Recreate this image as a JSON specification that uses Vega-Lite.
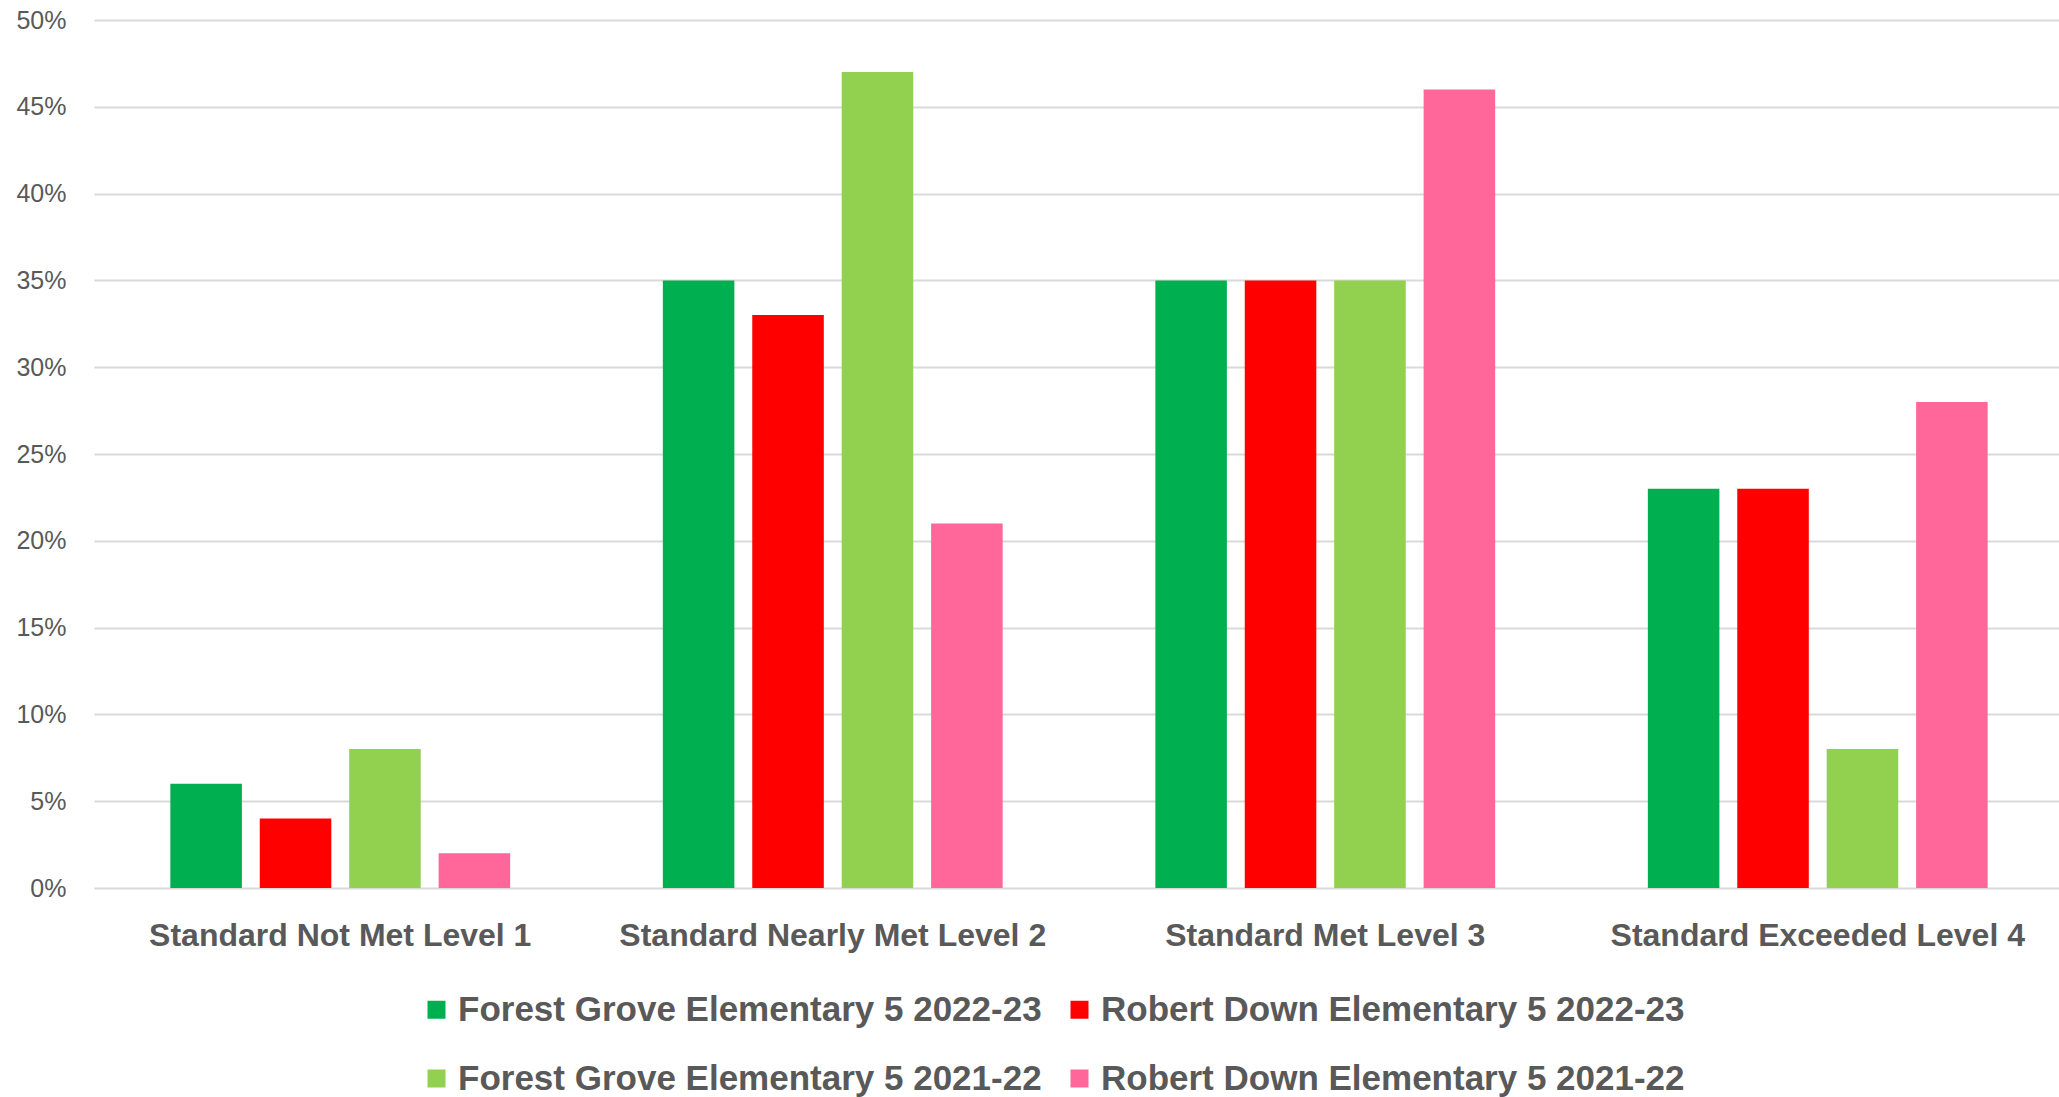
{
  "$schema": "https://vega.github.io/schema/vega-lite/v6.json",
  "width": 1970,
  "height": 868,
  "autosize": "none",
  "padding": {"left": 94, "top": 20, "right": 0, "bottom": 209},
  "background": "white",
  "data": {
    "values": [
      {"level": "Standard Not Met Level 1", "series": "Forest Grove Elementary 5 2022-23", "value": 0.06},
      {"level": "Standard Not Met Level 1", "series": "Robert Down Elementary 5 2022-23", "value": 0.04},
      {"level": "Standard Not Met Level 1", "series": "Forest Grove Elementary 5 2021-22", "value": 0.08},
      {"level": "Standard Not Met Level 1", "series": "Robert Down Elementary 5 2021-22", "value": 0.02},
      {"level": "Standard Nearly Met Level 2", "series": "Forest Grove Elementary 5 2022-23", "value": 0.35},
      {"level": "Standard Nearly Met Level 2", "series": "Robert Down Elementary 5 2022-23", "value": 0.33},
      {"level": "Standard Nearly Met Level 2", "series": "Forest Grove Elementary 5 2021-22", "value": 0.47},
      {"level": "Standard Nearly Met Level 2", "series": "Robert Down Elementary 5 2021-22", "value": 0.21},
      {"level": "Standard Met Level 3", "series": "Forest Grove Elementary 5 2022-23", "value": 0.35},
      {"level": "Standard Met Level 3", "series": "Robert Down Elementary 5 2022-23", "value": 0.35},
      {"level": "Standard Met Level 3", "series": "Forest Grove Elementary 5 2021-22", "value": 0.35},
      {"level": "Standard Met Level 3", "series": "Robert Down Elementary 5 2021-22", "value": 0.46},
      {"level": "Standard Exceeded Level 4", "series": "Forest Grove Elementary 5 2022-23", "value": 0.23},
      {"level": "Standard Exceeded Level 4", "series": "Robert Down Elementary 5 2022-23", "value": 0.23},
      {"level": "Standard Exceeded Level 4", "series": "Forest Grove Elementary 5 2021-22", "value": 0.08},
      {"level": "Standard Exceeded Level 4", "series": "Robert Down Elementary 5 2021-22", "value": 0.28}
    ]
  },
  "mark": {"type": "bar"},
  "encoding": {
    "x": {
      "field": "level",
      "type": "nominal",
      "sort": ["Standard Not Met Level 1", "Standard Nearly Met Level 2", "Standard Met Level 3", "Standard Exceeded Level 4"],
      "scale": {"paddingInner": 0.31, "paddingOuter": 0.155},
      "axis": {
        "title": null,
        "labelAngle": 0,
        "labelFont": "Liberation Sans",
        "labelFontWeight": "bold",
        "labelFontSize": 32,
        "labelColor": "#595959",
        "labelPadding": 32,
        "labelLimit": 1000,
        "ticks": false,
        "domain": false
      }
    },
    "xOffset": {
      "field": "series",
      "type": "nominal",
      "sort": ["Forest Grove Elementary 5 2022-23", "Robert Down Elementary 5 2022-23", "Forest Grove Elementary 5 2021-22", "Robert Down Elementary 5 2021-22"],
      "scale": {"paddingInner": 0.2, "paddingOuter": 0}
    },
    "y": {
      "field": "value",
      "type": "quantitative",
      "scale": {"domain": [0, 0.5]},
      "axis": {
        "title": null,
        "format": ".0%",
        "values": [0, 0.05, 0.1, 0.15, 0.2, 0.25, 0.3, 0.35, 0.4, 0.45, 0.5],
        "grid": true,
        "gridColor": "#D9D9D9",
        "gridWidth": 2,
        "domain": false,
        "ticks": false,
        "labelFont": "Liberation Sans",
        "labelFontSize": 25,
        "labelColor": "#595959",
        "labelPadding": 28
      }
    },
    "color": {
      "field": "series",
      "type": "nominal",
      "sort": ["Forest Grove Elementary 5 2022-23", "Robert Down Elementary 5 2022-23", "Forest Grove Elementary 5 2021-22", "Robert Down Elementary 5 2021-22"],
      "scale": {
        "domain": ["Forest Grove Elementary 5 2022-23", "Robert Down Elementary 5 2022-23", "Forest Grove Elementary 5 2021-22", "Robert Down Elementary 5 2021-22"],
        "range": ["#00B050", "#FF0000", "#92D050", "#FF6699"]
      },
      "legend": {
        "orient": "none",
        "legendX": 325,
        "legendY": 972,
        "direction": "horizontal",
        "columns": 2,
        "title": null,
        "padding": 0,
        "symbolType": "square",
        "symbolSize": 324,
        "symbolStrokeWidth": 0,
        "symbolOpacity": 1,
        "labelFont": "Liberation Sans",
        "labelFontWeight": "bold",
        "labelFontSize": 35,
        "labelColor": "#595959",
        "labelOffset": 4,
        "labelLimit": 1000,
        "columnPadding": 20,
        "rowPadding": 33
      }
    }
  },
  "config": {"view": {"stroke": null}}
}
